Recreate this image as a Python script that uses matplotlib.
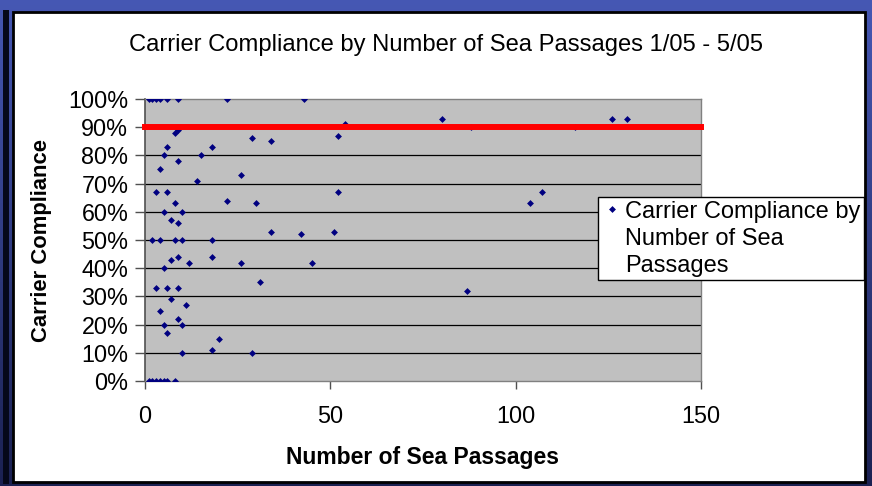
import numpy as np
import matplotlib
matplotlib.use("Agg")
import matplotlib.pyplot as plt
from matplotlib.patches import Rectangle
from matplotlib.ticker import PercentFormatter

plt.rcParams['font.family'] = ['Liberation Sans', 'DejaVu Sans']

# number of sea passages vs compliance (%)
passages = [1, 2, 3, 4, 6, 9, 22, 43,
            80, 126, 130, 54, 88, 116, 9, 8, 52, 29, 34,
            6, 18, 5, 15, 9, 4, 26, 14,
            3, 6, 52, 107, 22, 8, 30, 104, 5, 10, 7, 9,
            34, 51, 42, 2, 4, 8, 10, 18,
            9, 18, 7, 12, 26, 45, 5, 31, 3, 6, 9, 87,
            7, 11, 4, 9, 5, 10, 6, 20, 18, 10, 29,
            1, 2, 3, 4, 5, 6, 8]
compliance = [100, 100, 100, 100, 100, 100, 100, 100,
              93, 93, 93, 91, 90, 90, 89, 88, 87, 86, 85,
              83, 83, 80, 80, 78, 75, 73, 71,
              67, 67, 67, 67, 64, 63, 63, 63, 60, 60, 57, 56,
              53, 53, 52, 50, 50, 50, 50, 50,
              44, 44, 43, 42, 42, 42, 40, 35, 33, 33, 33, 32,
              29, 27, 25, 22, 20, 20, 17, 15, 11, 10, 10,
              0, 0, 0, 0, 0, 0, 0]
target_x = [0, 150]
target_y = [90, 90]

W, H = 872, 486
fig = plt.figure(figsize=(W / 100, H / 100), dpi=100)

# blue slide background
bg = fig.add_axes([0, 0, 1, 1], zorder=-2)
grad = np.linspace(0, 1, 256).reshape(-1, 1)
cmap = matplotlib.colors.LinearSegmentedColormap.from_list('bg', ['#4658b4', '#1b2152'])
bg.imshow(grad, aspect='auto', cmap=cmap, extent=[0, 1, 0, 1])
bg.set_axis_off()
bg.add_patch(Rectangle((3 / W, 2 / H), 6 / W, 474 / H, transform=bg.transAxes,
                       facecolor='#05081a', edgecolor='none'))
bg.add_patch(Rectangle((12.5 / W, 4 / H), 852 / W, 470 / H, transform=bg.transAxes,
                       facecolor='white', edgecolor='none'))

ax = fig.add_axes([145 / W, 1 - 381 / H, 556 / W, 282 / H])
ax.set_facecolor('#c0c0c0')
ax.set_xlim(0, 150)
ax.set_ylim(0, 100)
ax.set_xticks([0, 50, 100, 150])
ax.set_yticks(range(0, 101, 10))
ax.yaxis.set_major_formatter(PercentFormatter(100, decimals=0))
for y in range(10, 100, 10):
    ax.axhline(y, color='black', lw=0.9, zorder=1)

ax.plot(passages, compliance, linestyle='none', marker='D', markersize=3.5,
        markeredgewidth=0, color='#000080', zorder=3,
        label='Carrier Compliance by\nNumber of Sea\nPassages')
ax.plot(target_x, target_y, color='#ff0000', lw=4.3, solid_capstyle='projecting',
        clip_on=False, zorder=4)

for s in ['top', 'right', 'bottom']:
    ax.spines[s].set_color('#808080')
    ax.spines[s].set_linewidth(1)
ax.spines['left'].set_color('#505050')
ax.spines['left'].set_linewidth(1.2)
ax.tick_params(axis='y', length=7, width=1, color='#505050', pad=5, labelsize=16.8)
ax.tick_params(axis='x', length=6, width=1, color='#505050', pad=11, labelsize=16.8)

ax.set_xlabel('Number of Sea Passages', fontsize=16.5, fontweight='bold', va='center')
ax.xaxis.set_label_coords(0.5, (381 - 457) / 282)
ax.set_ylabel('Carrier Compliance', fontsize=15.8, fontweight='bold', va='center')
ax.yaxis.set_label_coords((41 - 145) / 556, 0.5)

fig.text(446 / W, 1 - 45 / H, 'Carrier Compliance by Number of Sea Passages 1/05 - 5/05',
         fontsize=17.1, ha='center', va='center')

leg = ax.legend(loc='upper left', bbox_to_anchor=(598 / W, 1 - 197 / H),
                bbox_transform=fig.transFigure, borderaxespad=0, fontsize=17,
                fancybox=False, framealpha=1, edgecolor='black', handlelength=0.9,
                handletextpad=0.1, borderpad=0.15, markerscale=1)
leg.get_frame().set_linewidth(1)
for t in leg.get_texts():
    t.set_linespacing(1.3)
# marker next to the first line of the label, as in the original
for col in leg._legend_handle_box.get_children():
    for item in col.get_children():
        item.align = 'top'

# frame edge on top
fig.add_artist(Rectangle((12.5 / W, 4 / H), 852 / W, 470 / H, transform=fig.transFigure,
                         facecolor='none', edgecolor='black', lw=2, zorder=10))

fig.savefig('out.png', dpi=100)
